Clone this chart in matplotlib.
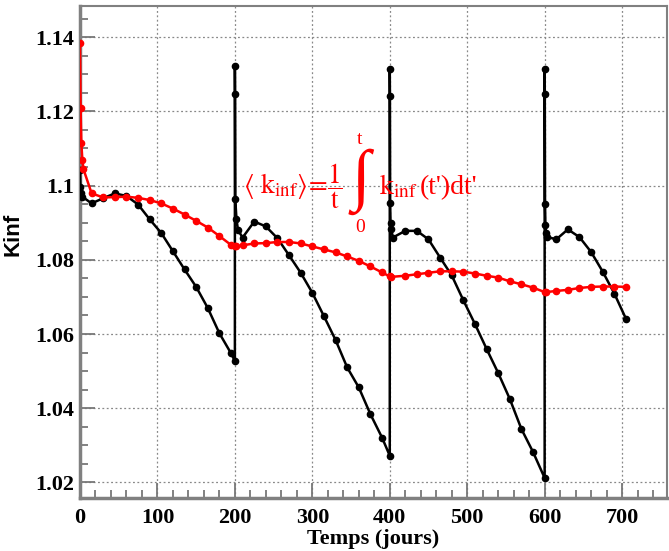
import numpy as np
import matplotlib
matplotlib.use("Agg")
import matplotlib.pyplot as plt
from matplotlib.ticker import MultipleLocator, FixedFormatter, FixedLocator

# kinf instantane (courbe noire)
t_noir = [0, 0.5, 1.5, 3, 15, 30, 45, 60, 75, 90, 105, 120, 135, 150, 165, 180, 195, 200,
          200, 200.2, 200.5, 202, 204, 210, 225, 240, 255, 270, 285, 300, 315, 330, 345, 360, 375, 390, 400,
          400, 400.2, 400.5, 401, 402, 404, 420, 435, 450, 465, 480, 495, 510, 525, 540, 555, 570, 585, 600,
          600, 600.2, 600.5, 601, 602, 603, 615, 630, 645, 660, 675, 690, 705]
k_noir = [1.1042, 1.0997, 1.0979, 1.0970, 1.0952, 1.0966, 1.0979, 1.0972, 1.0949, 1.0909, 1.0872, 1.0823,
          1.0774, 1.0727, 1.0670, 1.0602, 1.0548, 1.0527,
          1.1321, 1.1246, 1.0963, 1.0911, 1.0880, 1.0860, 1.0903, 1.0890, 1.0858, 1.0812, 1.0765, 1.0711,
          1.0648, 1.0584, 1.0510, 1.0456, 1.0384, 1.0321, 1.0272,
          1.1315, 1.1241, 1.0952, 1.0898, 1.0882, 1.0860, 1.0878, 1.0878, 1.0855, 1.0806, 1.0758, 1.0691,
          1.0627, 1.0560, 1.0495, 1.0425, 1.0344, 1.0282, 1.0212,
          1.1315, 1.1247, 1.0951, 1.0893, 1.0871, 1.0862, 1.0855, 1.0882, 1.0861, 1.0821, 1.0768, 1.0709, 1.0641]

# kinf moyen (courbe rouge)
t_rouge = [0, 0.8, 1.7, 3, 4.5, 15, 30, 45, 60, 75, 90, 105, 120, 135, 150, 165, 180, 195, 200,
           202, 210, 225, 240, 255, 270, 285, 300, 315, 330, 345, 360, 375, 390, 400,
           402, 420, 435, 450, 465, 480, 495, 510, 525, 540, 555, 570, 585, 600,
           602, 615, 630, 645, 660, 675, 690, 705]
k_rouge = [1.1385, 1.1210, 1.1116, 1.1070, 1.1044, 1.0979, 1.0968, 1.0969, 1.0970, 1.0967, 1.0961, 1.0952,
           1.0938, 1.0922, 1.0905, 1.0887, 1.0864, 1.0840, 1.0836,
           1.0836, 1.0839, 1.0844, 1.0845, 1.0848, 1.0848, 1.0844, 1.0836, 1.0828, 1.0820, 1.0809, 1.0797,
           1.0782, 1.0766, 1.0755,
           1.0754, 1.0757, 1.0761, 1.0765, 1.0769, 1.0769, 1.0768, 1.0763, 1.0757, 1.0752, 1.0742, 1.0734,
           1.0725, 1.0713,
           1.0713, 1.0716, 1.0719, 1.0724, 1.0727, 1.0728, 1.0728, 1.0727]

yticks = [1.02, 1.04, 1.06, 1.08, 1.10, 1.12, 1.14]
ylabels = ["1.02", "1.04", "1.06", "1.08", "1.1", "1.12", "1.14"]

plt.rcParams['mathtext.fontset'] = 'stix'

W, H = 669, 551
fig = plt.figure(figsize=(W/100, H/100), dpi=100)
ax = fig.add_axes([80/W, 53/H, 587/W, 492/H])

ax.plot(t_noir, k_noir, color='black', lw=1.8, marker='o', ms=4.5, zorder=3)
ax.plot(t_rouge, k_rouge, color='red', lw=1.8, marker='o', ms=4.5, zorder=4)

ax.set_xlim(0, 758)
ax.set_ylim(1.0158, 1.1484)

ax.xaxis.set_major_locator(MultipleLocator(100))
ax.xaxis.set_minor_locator(MultipleLocator(20))
ax.yaxis.set_major_locator(FixedLocator(yticks))
ax.yaxis.set_major_formatter(FixedFormatter(ylabels))
ax.yaxis.set_minor_locator(MultipleLocator(0.005))

ax.tick_params(which='both', direction='in', color='#777777', width=1.3)
ax.tick_params(which='major', length=11)
ax.tick_params(which='minor', length=6)
ax.tick_params(axis='y', pad=4)
ax.tick_params(axis='x', pad=7)
for lab in ax.get_xticklabels() + ax.get_yticklabels():
    lab.set_fontfamily('Liberation Serif')
    lab.set_fontweight('bold')
    lab.set_fontsize(16)

ax.grid(True, which='major', color='#888888', linestyle=(0, (1.5, 2)), linewidth=0.9)
ax.set_axisbelow(True)
for s in ax.spines.values():
    s.set_color('#808080')
    s.set_linewidth(1.5)
ax.spines['left'].set_linewidth(2.5)
ax.spines['bottom'].set_linewidth(2.5)

ax.set_xlabel('Temps (jours)', fontfamily='Liberation Serif', fontweight='bold', fontsize=16, labelpad=1)
ax.set_ylabel('Kinf', fontfamily='Liberation Sans', fontweight='bold', fontsize=16)
ax.yaxis.set_label_coords(-0.097, 0.535)

# formule <kinf> = 1/t int kinf dt', placee en pixels de la figure
def formule(px, py, s, **kw):
    fig.text(px/W, 1 - py/H, s, color='red', **kw)

formule(243, 194, r"$\langle\ \mathrm{k}_{\mathrm{inf}}\rangle\!=\!\dfrac{1}{\mathrm{t}}$",
        fontsize=19.5, ha='left', va='baseline')
formule(361, 182, "\u222b", fontfamily='Liberation Serif', fontweight='bold', fontsize=49,
        ha='center', va='center')
formule(360, 139, "t", fontfamily='Liberation Serif', fontsize=14, ha='center', va='center')
formule(360, 228, "0", fontfamily='Liberation Serif', fontsize=14, ha='center', va='center')
formule(379, 194, r"$\mathrm{k}_{\mathrm{inf}}$", fontsize=20, ha='left', va='baseline')
formule(420, 194, "(t')dt'", fontfamily='Liberation Serif', fontsize=20, ha='left', va='baseline')

plt.savefig('out.png', dpi=100)
